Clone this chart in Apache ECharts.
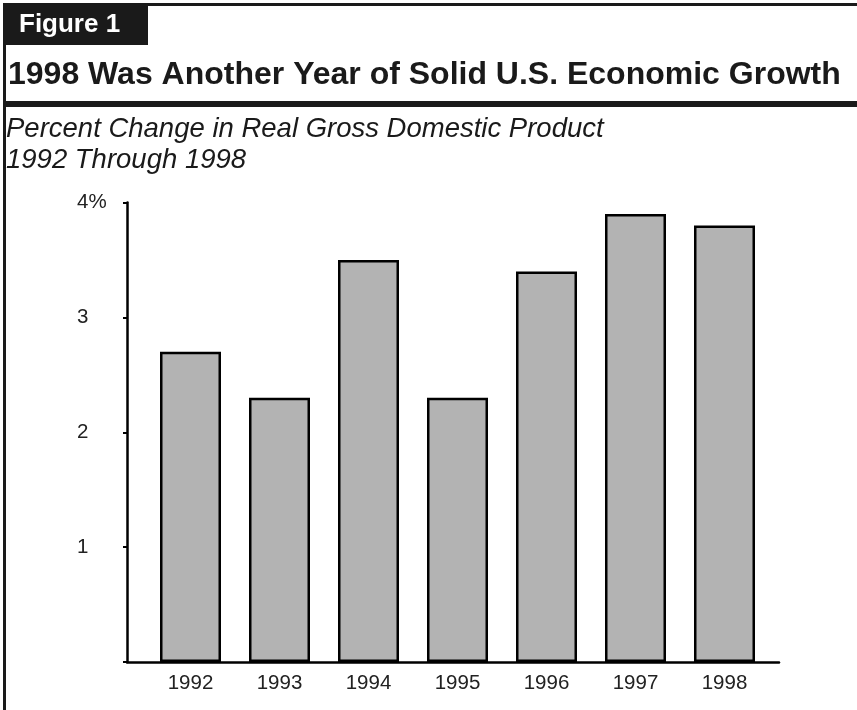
<!DOCTYPE html>
<html>
<head>
<meta charset="utf-8">
<script src="https://cdn.jsdelivr.net/npm/echarts@6/dist/echarts.min.js"></script>
<style>
  html, body { margin: 0; padding: 0; background: #fff; }
  #chart { width: 857px; height: 710px; }
</style>
</head>
<body>
<div id="chart"></div>
<script>
// Real GDP growth, percent change by year
const years = ['1992', '1993', '1994', '1995', '1996', '1997', '1998'];
const gdpGrowth = [2.7, 2.3, 3.5, 2.3, 3.4, 3.9, 3.8];
const yTicks = [0, 1, 2, 3, 4];

const FONT = '"Liberation Sans", Arial, Helvetica, sans-serif';
const INK = '#1a1a1a';

const chart = echarts.init(document.getElementById('chart'), null, { renderer: 'canvas' });

const plotTop = 202.5;
const plotBottom = 48;

chart.setOption({
  backgroundColor: '#ffffff',
  animation: false,
  grid: [
    // axis frame (line extends past the bars on both sides)
    { left: 127, right: 78, top: plotTop, bottom: plotBottom, containLabel: false },
    // bar band
    { left: 146, right: 88, top: plotTop, bottom: plotBottom, containLabel: false }
  ],
  xAxis: [
    {
      gridIndex: 0, type: 'category', data: years.map(() => ''),
      axisLine: { show: true, lineStyle: { color: '#000', width: 2.5 } },
      axisTick: { show: false }, axisLabel: { show: false }, splitLine: { show: false }
    },
    {
      gridIndex: 1, type: 'category', data: years,
      axisLine: { show: false }, axisTick: { show: false },
      axisLabel: { color: '#222', fontFamily: FONT, fontSize: 20.5, margin: 11 }
    }
  ],
  yAxis: [
    {
      gridIndex: 0, type: 'value', min: yTicks[0], max: yTicks[yTicks.length - 1], interval: 1,
      axisLine: { show: true, lineStyle: { color: '#000', width: 2.5 } },
      axisTick: { show: true, inside: false, length: 4, lineStyle: { color: '#000', width: 2 } },
      axisLabel: {
        color: '#222', fontFamily: FONT, fontSize: 20.5, align: 'left', margin: 50,
        padding: [0, 0, 5, 0],
        formatter: v => (v === 0 ? '' : (v === 4 ? v + '%' : String(v)))
      },
      splitLine: { show: false }
    },
    {
      gridIndex: 1, type: 'value', min: yTicks[0], max: yTicks[yTicks.length - 1], show: false,
      splitLine: { show: false }
    }
  ],
  series: [{
    type: 'bar',
    xAxisIndex: 1, yAxisIndex: 1,
    data: gdpGrowth,
    barWidth: 61,
    itemStyle: { color: '#b3b3b3', borderColor: '#000', borderWidth: 2.5 },
    z: 3
  }],
  graphic: [
    // page frame: left rule and top rule
    { type: 'rect', shape: { x: 3, y: 3, width: 3, height: 707 }, style: { fill: INK }, silent: true },
    { type: 'rect', shape: { x: 3, y: 3, width: 854, height: 3 }, style: { fill: INK }, silent: true },
    // figure tab
    { type: 'rect', shape: { x: 3, y: 3, width: 145, height: 42 }, style: { fill: INK }, silent: true },
    {
      type: 'text', x: 19, y: 25,
      style: { text: 'Figure 1', fill: '#fff', font: 'bold 26px ' + FONT, verticalAlign: 'middle', align: 'left' },
      silent: true
    },
    // heavy rule under the title
    { type: 'rect', shape: { x: 3, y: 101, width: 854, height: 6 }, style: { fill: INK }, silent: true },
    {
      type: 'text', x: 8, y: 75,
      style: { text: '1998 Was Another Year of Solid U.S. Economic Growth', fill: INK, font: 'bold 32px ' + FONT, verticalAlign: 'middle', align: 'left' },
      silent: true
    },
    {
      type: 'text', x: 6, y: 129,
      style: { text: 'Percent Change in Real Gross Domestic Product', fill: INK, font: 'italic 27.5px ' + FONT, verticalAlign: 'middle', align: 'left' },
      silent: true
    },
    {
      type: 'text', x: 6, y: 160,
      style: { text: '1992 Through 1998', fill: INK, font: 'italic 27.5px ' + FONT, verticalAlign: 'middle', align: 'left' },
      silent: true
    }
  ]
});
</script>
</body>
</html>
